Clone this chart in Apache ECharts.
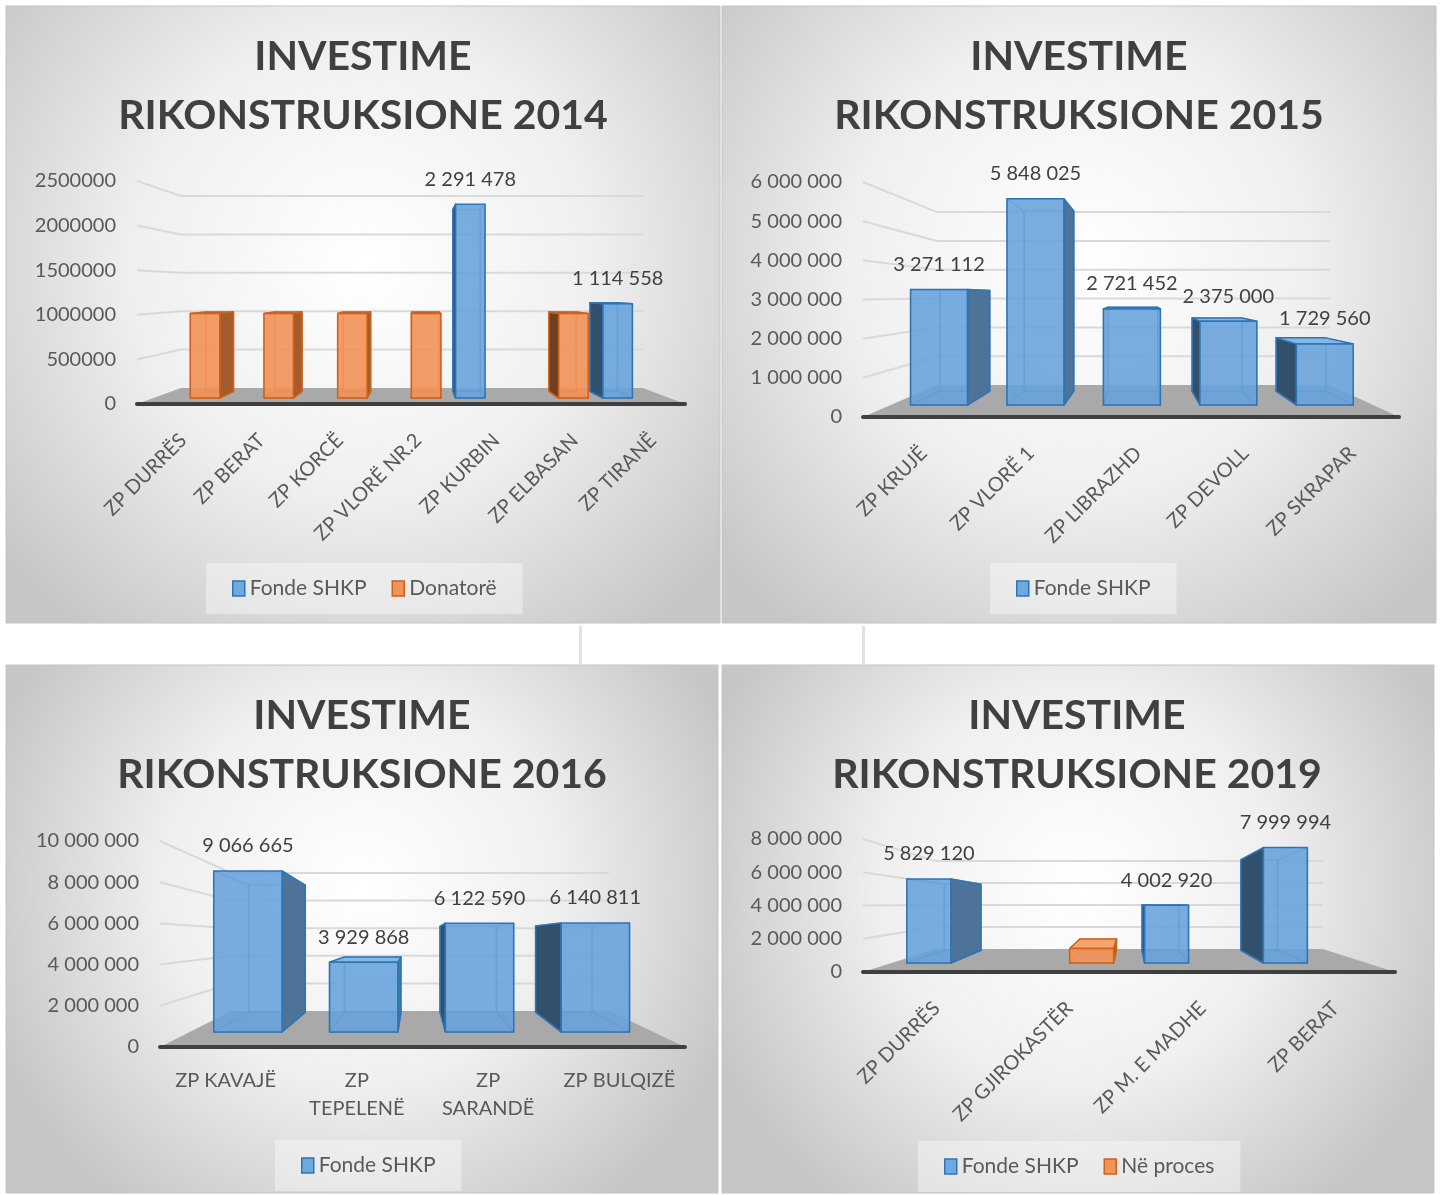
<!DOCTYPE html>
<html>
<head>
<meta charset="utf-8">
<script src="https://cdn.jsdelivr.net/npm/echarts/dist/echarts.min.js"></script>
<style>
html, body { margin: 0; padding: 0; background: #ffffff; }
#chart { width: 1443px; height: 1195px; }
</style>
</head>
<body>
<div id="chart"></div>
<script>
// ---- data ----
var cat2014 = ['ZP DURRËS', 'ZP BERAT', 'ZP KORCË', 'ZP VLORË NR.2', 'ZP KURBIN', 'ZP ELBASAN', 'ZP TIRANË'];
var fonde2014 = [null, null, null, null, 2291478, null, 1114558];
var donatore2014 = [1000000, 1000000, 1000000, 1000000, null, 1000000, null];
var ticks2014 = [0, 500000, 1000000, 1500000, 2000000, 2500000];

var cat2015 = ['ZP KRUJË', 'ZP VLORË 1', 'ZP LIBRAZHD', 'ZP DEVOLL', 'ZP SKRAPAR'];
var fonde2015 = [3271112, 5848025, 2721452, 2375000, 1729560];
var ticks2015 = [0, 1000000, 2000000, 3000000, 4000000, 5000000, 6000000];

var cat2016 = ['ZP KAVAJË', 'ZP TEPELENË', 'ZP SARANDË', 'ZP BULQIZË'];
var fonde2016 = [9066665, 3929868, 6122590, 6140811];
var ticks2016 = [0, 2000000, 4000000, 6000000, 8000000, 10000000];
var wrap2016 = ['ZP TEPELENË', 'ZP SARANDË'];

var cat2019 = ['ZP DURRËS', 'ZP GJIROKASTËR', 'ZP M. E MADHE', 'ZP BERAT'];
var fonde2019 = [5829120, null, 4002920, 7999994];
var proces2019 = [null, 1000000, null, null];
var ticks2019 = [0, 2000000, 4000000, 6000000, 8000000];

// ---- layout (pixels, perspective of the fake 3d) ----
var panels = [
  { box: [6, 6, 714, 617], title: 'INVESTIME\nRIKONSTRUKSIONE 2014', tx: 363, ty: 27,
    grid: { left: 137, top: 181, width: 548, height: 223 },
    vp: [417, 289], dx: 0.157, dy: 0.139, f0: 0.375, f1: 0.79,
    cats: cat2014, ticks: ticks2014, spaced: false, rotate: 45, legend: [206, 563] },
  { box: [722, 6, 714, 617], title: 'INVESTIME\nRIKONSTRUKSIONE 2015', tx: 1079, ty: 27,
    grid: { left: 863, top: 182, width: 536, height: 235 },
    vp: [1140, 296], dx: 0.267, dy: 0.264, f0: 0.376, f1: 0.81,
    cats: cat2015, ticks: ticks2015, spaced: true, rotate: 45, legend: [990, 563] },
  { box: [6, 665, 712, 528], title: 'INVESTIME\nRIKONSTRUKSIONE 2016', tx: 362, ty: 686,
    grid: { left: 160, top: 841, width: 525, height: 206 },
    vp: [415, 938], dx: 0.28, dy: 0.33, f0: 0.42, f1: 0.97,
    cats: cat2016, ticks: ticks2016, spaced: true, rotate: 0, legend: [275, 1140] },
  { box: [722, 665, 712, 528], title: 'INVESTIME\nRIKONSTRUKSIONE 2019', tx: 1077, ty: 686,
    grid: { left: 863, top: 839, width: 532, height: 133 },
    vp: [1130, 904], dx: 0.273, dy: 0.34, f0: 0.39, f1: 0.94,
    cats: cat2019, ticks: ticks2019, spaced: true, rotate: 45, legend: [918, 1141] }
];

var blueSt = { front: 'rgba(102,162,220,0.88)', edge: '#2e75b6', inner: 'rgba(46,117,182,0.5)',
  sideR: '#4d7399', sideL: '#324f6c', top: '#86b8e4', legend: '#6fa8dc' };
var orangeSt = { front: 'rgba(241,146,86,0.9)', edge: '#d0601a', inner: 'rgba(208,96,26,0.5)',
  sideR: '#a35c2b', sideL: '#6e3f20', top: '#f4a46e', legend: '#f0955a' };

function fmtSpaced(v) {
  return String(v).replace(/\B(?=(\d{3})+(?!\d))/g, ' ');
}

// point pushed back in depth f toward the vanishing point
function proj(p, x, y, f) {
  return [x + (p.vp[0] - x) * p.dx * f, y + (p.vp[1] - y) * p.dy * f];
}

function face(pts, fill, stroke) {
  return { type: 'polygon', shape: { points: pts },
    style: { fill: fill || 'none', stroke: stroke, lineWidth: 1.5, lineJoin: 'round' } };
}

function barItem(p, offset, width, st, withLabel) {
  return function (params, api) {
    var v = api.value(1);
    if (v == null || isNaN(v)) return null;
    var i = api.value(0);
    var top = api.coord([i, v]), base = api.coord([i, 0]);
    var band = api.size([1, 0])[0];
    var cx = top[0] + band * offset, hw = band * width / 2;
    var xl = cx - hw, xr = cx + hw, yt = top[1], yb = base[1];
    var F = [proj(p, xl, yt, p.f0), proj(p, xr, yt, p.f0), proj(p, xr, yb, p.f0), proj(p, xl, yb, p.f0)];
    var B = [proj(p, xl, yt, p.f1), proj(p, xr, yt, p.f1), proj(p, xr, yb, p.f1), proj(p, xl, yb, p.f1)];
    var kids = [];
    kids.push(face(B, null, st.inner));
    kids.push(face([F[3], F[2], B[2], B[3]], null, st.inner));
    kids.push(face([F[0], F[3], B[3], B[0]], null, st.inner));
    kids.push(face([F[1], F[2], B[2], B[1]], null, st.inner));
    if (xr < p.vp[0]) kids.push(face([F[1], F[2], B[2], B[1]], st.sideR, st.edge));
    if (xl > p.vp[0]) kids.push(face([F[0], F[3], B[3], B[0]], st.sideL, st.edge));
    if (yt > p.vp[1]) kids.push(face([F[0], F[1], B[1], B[0]], st.top, st.edge));
    kids.push(face(F, st.front, st.edge));
    if (withLabel) {
      kids.push({ type: 'text', style: { text: fmtSpaced(v), x: (F[0][0] + F[1][0]) / 2, y: F[0][1] - 25,
        align: 'center', verticalAlign: 'middle', fontSize: 20, fontFamily: 'Lato', fill: '#404040' } });
    }
    return { type: 'group', children: kids };
  };
}

// floor and the side/back wall gridlines
function wallItem(p) {
  return function (params, api) {
    var t = api.value(1);
    var cs = params.coordSys;
    var y = api.coord([0, t])[1];
    var x0 = cs.x, x1 = cs.x + cs.width;
    var bl = proj(p, x0, y, 1), br = proj(p, x1, y, 1);
    if (t === 0) {
      return { type: 'polygon', shape: { points: [[x0, y], [x1, y], br, bl] }, style: { fill: '#a9a9a9' } };
    }
    return { type: 'polyline', shape: { points: [[x0, y], bl, br] },
      style: { stroke: '#d9d9d9', lineWidth: 2, fill: 'none' } };
  };
}

function pairs(arr) {
  return arr.map(function (v, i) { return [i, v]; });
}

var grids = [], xAxes = [], yAxes = [], titles = [], legends = [], series = [], graphics = [];

panels.forEach(function (p, k) {
  graphics.push({
    type: 'rect', z: -10,
    shape: { x: p.box[0], y: p.box[1], width: p.box[2], height: p.box[3] },
    style: {
      fill: new echarts.graphic.RadialGradient(0.5, 0.42, 0.75, [
        { offset: 0, color: '#ffffff' },
        { offset: 0.5, color: '#efefef' },
        { offset: 1, color: '#c6c6c6' }
      ]),
      stroke: '#c4c4c4', lineWidth: 1
    }
  });
  grids.push({ left: p.grid.left, top: p.grid.top, width: p.grid.width, height: p.grid.height,
    containLabel: false, outerBoundsMode: 'none' });
  var last = p.ticks[p.ticks.length - 1];
  yAxes.push({
    type: 'value', gridIndex: k, min: 0, max: last, interval: p.ticks[1],
    axisLine: { show: false }, axisTick: { show: false }, splitLine: { show: false },
    axisLabel: { fontSize: 20, fontFamily: 'Lato', color: '#595959', margin: 21,
      formatter: p.spaced ? function (v) { return fmtSpaced(v); } : function (v) { return String(v); } }
  });
  var lab = p.rotate ?
    { interval: 0, rotate: 45, align: 'right', verticalAlign: 'top', margin: 26,
      fontSize: 20, fontFamily: 'Lato', color: '#595959' } :
    { interval: 0, rotate: 0, margin: 20, lineHeight: 28,
      fontSize: 20, fontFamily: 'Lato', color: '#595959',
      formatter: function (v) { return wrap2016.indexOf(v) >= 0 ? v.replace(' ', '\n') : v; } };
  xAxes.push({
    type: 'category', gridIndex: k, data: p.cats, z: 3,
    axisTick: { show: false },
    axisLine: { show: true, lineStyle: { color: '#3f3f3f', width: 4, cap: 'round' } },
    axisLabel: lab
  });
  titles.push({
    text: p.title, left: p.tx, top: p.ty, textAlign: 'center', padding: 0,
    textStyle: { fontFamily: 'Lato', fontSize: 41, fontWeight: 'bold', color: '#404040', lineHeight: 59 }
  });
  series.push({
    type: 'custom', name: 'wall' + k, xAxisIndex: k, yAxisIndex: k, z: 1, silent: true,
    data: p.ticks.map(function (t) { return [0, t]; }),
    renderItem: wallItem(p)
  });
});

function legendOf(p, names) {
  return {
    left: p.legend[0], top: p.legend[1], orient: 'horizontal',
    itemWidth: 12, itemHeight: 15, itemGap: 25, padding: [15, 26],
    backgroundColor: 'rgba(255,255,255,0.38)',
    textStyle: { fontSize: 21, fontFamily: 'Lato', color: '#595959' },
    data: names.map(function (n) {
      var st = n === 'Fonde SHKP' ? blueSt : orangeSt;
      return { name: n, icon: 'rect', itemStyle: { color: st.legend, borderColor: st.edge, borderWidth: 1.5 } };
    })
  };
}

// 2014
series.push({ type: 'custom', name: 'Fonde SHKP', xAxisIndex: 0, yAxisIndex: 0, z: 2,
  itemStyle: { color: blueSt.legend }, data: pairs(fonde2014),
  renderItem: barItem(panels[0], -0.2, 0.4, blueSt, true) });
series.push({ type: 'custom', name: 'Donatorë', xAxisIndex: 0, yAxisIndex: 0, z: 2,
  itemStyle: { color: orangeSt.legend }, data: pairs(donatore2014),
  renderItem: barItem(panels[0], 0.2, 0.4, orangeSt, false) });
legends.push(legendOf(panels[0], ['Fonde SHKP', 'Donatorë']));

// 2015
series.push({ type: 'custom', name: 'Fonde SHKP', xAxisIndex: 1, yAxisIndex: 1, z: 2,
  itemStyle: { color: blueSt.legend }, data: pairs(fonde2015),
  renderItem: barItem(panels[1], 0, 0.59, blueSt, true) });
legends.push(legendOf(panels[1], ['Fonde SHKP']));

// 2016
series.push({ type: 'custom', name: 'Fonde SHKP', xAxisIndex: 2, yAxisIndex: 2, z: 2,
  itemStyle: { color: blueSt.legend }, data: pairs(fonde2016),
  renderItem: barItem(panels[2], 0, 0.59, blueSt, true) });
legends.push(legendOf(panels[2], ['Fonde SHKP']));

// 2019
series.push({ type: 'custom', name: 'Fonde SHKP', xAxisIndex: 3, yAxisIndex: 3, z: 2,
  itemStyle: { color: blueSt.legend }, data: pairs(fonde2019),
  renderItem: barItem(panels[3], -0.185, 0.37, blueSt, true) });
series.push({ type: 'custom', name: 'Në proces', xAxisIndex: 3, yAxisIndex: 3, z: 2,
  itemStyle: { color: orangeSt.legend }, data: pairs(proces2019),
  renderItem: barItem(panels[3], 0.185, 0.37, orangeSt, false) });
legends.push(legendOf(panels[3], ['Fonde SHKP', 'Në proces']));

// faint marks in the gap between the rows
graphics.push({ type: 'rect', z: -10, shape: { x: 579, y: 626, width: 3, height: 38 }, style: { fill: '#e2e2e2' } });
graphics.push({ type: 'rect', z: -10, shape: { x: 862, y: 626, width: 3, height: 38 }, style: { fill: '#e2e2e2' } });

var chart = echarts.init(document.getElementById('chart'));
chart.setOption({
  animation: false,
  textStyle: { fontFamily: 'Lato' },
  graphic: graphics,
  title: titles,
  legend: legends,
  grid: grids,
  xAxis: xAxes,
  yAxis: yAxes,
  series: series
});
</script>
</body>
</html>
